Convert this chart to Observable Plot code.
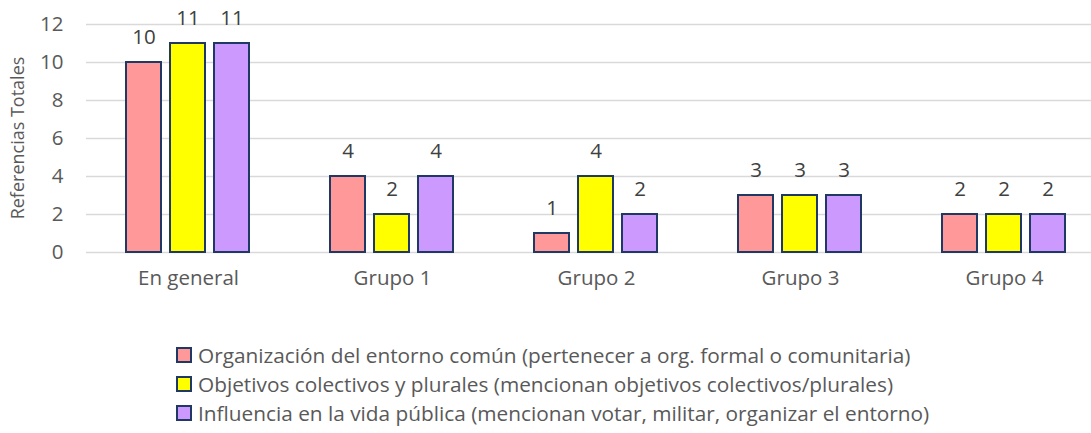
<!DOCTYPE html>
<html>
<head>
<meta charset="utf-8">
<script src="https://cdn.jsdelivr.net/npm/d3@7"></script>
<script src="https://cdn.jsdelivr.net/npm/@observablehq/plot@0.6"></script>
<style>
  html, body { margin: 0; padding: 0; background: #fff; overflow: hidden; }
  #wrap { position: relative; width: 1091px; height: 433px; overflow: hidden; font-family: "Open Sans", sans-serif; color: #595959; }
  #chart { position: absolute; left: 0; top: 0; width: 1106px; }
  #chart svg { max-width: none !important; width: 1106px; height: 300px; }
  #ylabel { position: absolute; left: 17px; top: 138px; transform: translate(-50%, -50%) rotate(-90deg); font-size: 18px; white-space: nowrap; }
  #legend { position: absolute; left: 176px; top: 340px; font-size: 20.8px; }
  .li { display: flex; align-items: center; height: 29px; white-space: nowrap; }
  .sw { width: 12px; height: 12px; border: 2px solid #1F3864; margin-right: 6px; box-sizing: content-box; }
</style>
</head>
<body>
<div id="wrap">
  <div id="chart"></div>
  <div id="ylabel">Referencias Totales</div>
  <div id="legend"></div>
</div>
<script>
const categories = ["En general", "Grupo 1", "Grupo 2", "Grupo 3", "Grupo 4"];
const seriesNames = [
  "Organización del entorno común (pertenecer a org. formal o comunitaria)",
  "Objetivos colectivos y plurales (mencionan objetivos colectivos/plurales)",
  "Influencia en la vida pública (mencionan votar, militar, organizar el entorno)"
];
const organizacion = [10, 4, 1, 3, 2];
const objetivos = [11, 2, 4, 3, 2];
const influencia = [11, 4, 2, 3, 2];
const colors = ["#FF9999", "#FFFF00", "#CC99FF"];
const yTicks = [0, 2, 4, 6, 8, 10, 12];

const seriesValues = [organizacion, objetivos, influencia];
const data = [];
categories.forEach((c, i) => {
  seriesNames.forEach((s, j) => data.push({cat: c, series: s, value: seriesValues[j][i]}));
});

const chart = Plot.plot({
  width: 1106,
  height: 300,
  marginLeft: 85,
  marginRight: 0,
  marginTop: 24,
  marginBottom: 48,
  style: {fontFamily: "Open Sans, sans-serif", fontSize: "20.5px", color: "#595959", background: "transparent", maxWidth: "none"},
  fx: {domain: categories, padding: 0, label: null, axis: null},
  x: {domain: seriesNames, paddingInner: 0.2, paddingOuter: 0.867, axis: null},
  y: {domain: [0, 12], ticks: yTicks, tickSize: 0, tickPadding: 23, label: null},
  color: {domain: seriesNames, range: colors},
  marks: [
    Plot.ruleY(yTicks, {stroke: "#D9D9D9", strokeWidth: 1.3}),
    Plot.barY(data, {fx: "cat", x: "series", y: "value", fill: "series", stroke: "#1F3864", strokeWidth: 2}),
    Plot.text(data, {fx: "cat", x: "series", y: "value", text: d => String(d.value), dy: -25, fill: "#404040", fontSize: 20.5}),
    Plot.axisFx({anchor: "bottom", tickSize: 0, tickPadding: 18, label: null, fontSize: 20.5, fill: "#595959"})
  ]
});
document.getElementById("chart").appendChild(chart);

const legend = document.getElementById("legend");
seriesNames.forEach((s, i) => {
  const row = document.createElement("div");
  row.className = "li";
  const sw = document.createElement("span");
  sw.className = "sw";
  sw.style.background = colors[i];
  const t = document.createElement("span");
  t.textContent = s;
  row.appendChild(sw);
  row.appendChild(t);
  legend.appendChild(row);
});
</script>
</body>
</html>
